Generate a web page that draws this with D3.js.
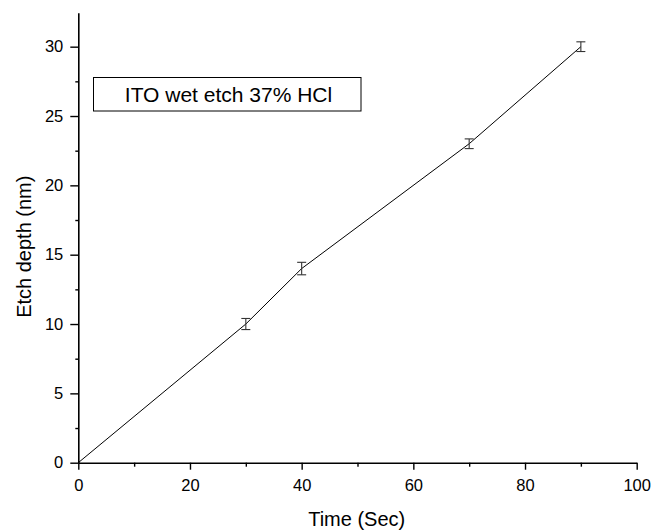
<!DOCTYPE html>
<html>
<head>
<meta charset="utf-8">
<script src="https://cdn.jsdelivr.net/npm/d3@7"></script>
<style>
  html, body { margin: 0; padding: 0; background: #fff; }
  svg { display: block; font-family: Arial, "Liberation Sans", sans-serif; }
</style>
</head>
<body>
<svg id="chart" width="652" height="531"></svg>
<script>
// Etch time (s) vs etch depth (nm), with error bars
const times = [0, 30, 40, 70, 90];
const depths = [0, 10, 14, 23, 30];
const errors = [0, 0.4, 0.45, 0.35, 0.35];
const xTicks = [0, 20, 40, 60, 80, 100];
const yTicks = [0, 5, 10, 15, 20, 25, 30];
const legendLabel = "ITO wet etch 37% HCl";

const svg = d3.select("#chart");
const plotLeft = 78.3, plotRight = 636.7, plotTop = 12.7, plotBottom = 462.7;

const x = d3.scaleLinear().domain([0, 100]).range([plotLeft, plotRight]);
const y = d3.scaleLinear().domain([0, 32.45]).range([plotBottom, plotTop]);

// Axes: major ticks labelled, minor ticks between
const xMinor = d3.range(10, 100, 20);
const yMinor = d3.range(2.5, 32.5, 5);

const gx = svg.append("g").attr("transform", `translate(0,${plotBottom})`);
gx.call(d3.axisBottom(x).tickValues(xTicks).tickSize(7).tickPadding(10).tickSizeOuter(0));
gx.append("g").call(d3.axisBottom(x).tickValues(xMinor).tickSize(4).tickFormat("").tickSizeOuter(0))
  .select(".domain").remove();

const gy = svg.append("g").attr("transform", `translate(${plotLeft},0)`);
gy.call(d3.axisLeft(y).tickValues(yTicks).tickSize(8).tickPadding(7).tickSizeOuter(0));
gy.append("g").call(d3.axisLeft(y).tickValues(yMinor).tickSize(3).tickFormat("").tickSizeOuter(0))
  .select(".domain").remove();

svg.selectAll(".domain").attr("stroke", "#000").attr("stroke-width", 1.6);
svg.selectAll(".tick line").attr("stroke", "#000").attr("stroke-width", 1.4);
svg.selectAll(".tick text").attr("font-size", 16.5).attr("fill", "#000")
  .attr("font-family", "Arial, 'Liberation Sans', sans-serif");

// Data line
const pts = times.map((t, i) => ({ t, d: depths[i], e: errors[i] }));
svg.append("path")
  .datum(pts)
  .attr("fill", "none")
  .attr("stroke", "#000")
  .attr("stroke-width", 1)
  .attr("d", d3.line().x(p => x(p.t)).y(p => y(p.d)));

// Error bars
const eb = svg.append("g").attr("stroke", "#333").attr("stroke-width", 1.1);
pts.filter(p => p.e > 0).forEach(p => {
  const cx = x(p.t), y1 = y(p.d + p.e), y0 = y(p.d - p.e);
  eb.append("line").attr("x1", cx).attr("x2", cx).attr("y1", y1).attr("y2", y0);
  eb.append("line").attr("x1", cx - 4.5).attr("x2", cx + 4.5).attr("y1", y1).attr("y2", y1);
  eb.append("line").attr("x1", cx - 4.5).attr("x2", cx + 4.5).attr("y1", y0).attr("y2", y0);
});

// Legend box
svg.append("rect")
  .attr("x", 93.5).attr("y", 77.5).attr("width", 267.5).attr("height", 33.5)
  .attr("fill", "#fff").attr("stroke", "#000").attr("stroke-width", 1);
svg.append("text")
  .attr("x", 228.5).attr("y", 101.7)
  .attr("text-anchor", "middle").attr("font-size", 21).attr("fill", "#000")
  .text(legendLabel);

// Axis titles
svg.append("text")
  .attr("x", 356.7).attr("y", 525.7)
  .attr("text-anchor", "middle").attr("font-size", 20).attr("fill", "#000")
  .text("Time (Sec)");
svg.append("text")
  .attr("transform", "translate(30.7,246.7) rotate(-90)")
  .attr("text-anchor", "middle").attr("font-size", 20).attr("fill", "#000")
  .text("Etch depth (nm)");
</script>
</body>
</html>
